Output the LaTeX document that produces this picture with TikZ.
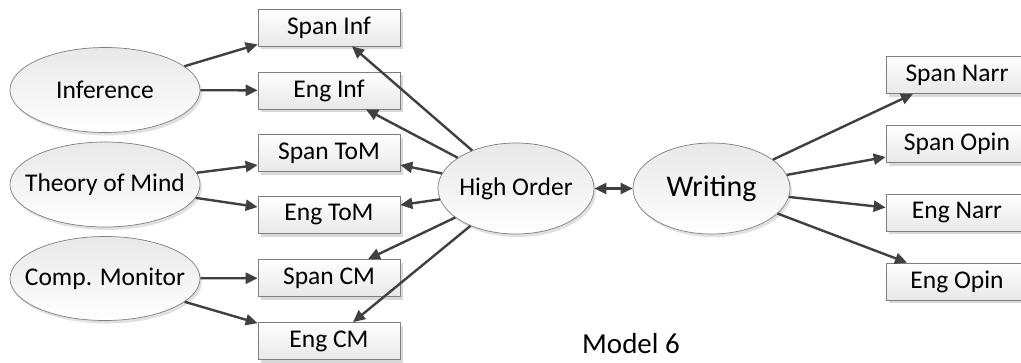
\documentclass[tikz,border=0pt]{standalone}
\usepackage{fontspec}
\setmainfont{Carlito}
\usetikzlibrary{arrows.meta,shadows,calc,shapes.geometric}
\definecolor{edgegray}{HTML}{7F7F7F}
\definecolor{arrowgray}{HTML}{404040}
\begin{document}
\begin{tikzpicture}[x=1pt,y=-1pt,
  measure/.style={draw=edgegray, line width=0.7pt, rectangle, minimum width=142pt,
    minimum height=37pt, inner sep=0pt, top color=white, bottom color=black!9,
    font=\fontsize{25.5}{28}\selectfont,
    drop shadow={shadow xshift=3pt, shadow yshift=-3pt, fill=black!25, opacity=.6}},
  factor/.style={draw=edgegray, line width=0.7pt, ellipse, inner sep=-20pt,
    top color=black!9, bottom color=white,
    font=\fontsize{25.5}{28}\selectfont,
    drop shadow={shadow xshift=2pt, shadow yshift=-3pt, fill=black!20, opacity=.6}},
  link/.style={draw=arrowgray, line width=2.4pt, -{Triangle[length=12pt,width=11pt]}},
  both/.style={draw=arrowgray, line width=2.4pt, {Triangle[length=12pt,width=11pt]}-{Triangle[length=12pt,width=11pt]}}
]
\useasboundingbox (0,0) rectangle (1021,362);

% latent factors on the left
\node[factor, minimum width=190pt, minimum height=85pt] (inf) at (105,90) {Inference};
\node[factor, minimum width=190pt, minimum height=85pt] (tom) at (105,184.5) {Theory of Mind};
\node[factor, minimum width=190pt, minimum height=84pt] (cm) at (105,278.5) {Comp. Monitor};

% indicators of the left factors
\node[measure] (spaninf) at (329,27.5) {Span Inf};
\node[measure] (enginf) at (329,90.5) {Eng Inf};
\node[measure] (spantom) at (329,153) {Span ToM};
\node[measure] (engtom) at (329,215) {Eng ToM};
\node[measure] (spancm) at (329,278) {Span CM};
\node[measure] (engcm) at (329,341) {Eng CM};

% higher-order factor and writing
\node[factor, minimum width=156pt, minimum height=91pt] (high) at (516,188.5) {High Order};
\node[factor, minimum width=157pt, minimum height=91pt, font=\fontsize{30}{34}\selectfont] (writ) at (711.5,188.5) {Writing};

% writing indicators
\node[measure] (spannarr) at (957,75) {Span Narr};
\node[measure] (spanopin) at (957,144) {Span Opin};
\node[measure] (engnarr) at (957,212.5) {Eng Narr};
\node[measure] (engopin) at (957,281.5) {Eng Opin};

\node[font=\fontsize{29}{32}\selectfont] (title) at (631,344) {Model 6};

% loadings of the first-order factors
\draw[link] (inf) -- ($(spaninf.south west)+(0,-2)$);
\draw[link] (inf) -- (enginf);
\draw[link] (tom) -- ($(spantom.west)+(0,12)$);
\draw[link] (tom) -- ($(engtom.west)+(0,-8)$);
\draw[link] (cm) -- (spancm);
\draw[link] (cm) -- ($(engcm.north west)+(0,1)$);

% direct paths from the higher-order factor
\draw[link] (high) -- ($(spaninf.south)+(23,0)$);
\draw[link] (high) -- ($(enginf.south)+(37,0)$);
\draw[link] (high) -- ($(spantom.east)+(0,12)$);
\draw[link] (high) -- ($(engtom.east)+(0,-10)$);
\draw[link] (high) -- ($(spancm.north)+(39,0)$);
\draw[link] (high) -- ($(engcm.north)+(24,0)$);

% correlation between the two factors
\draw[both] (high) -- (writ);

% writing loadings
\draw[link] (writ) -- ($(spannarr.south)+(-44,0)$);
\draw[link] (writ) -- ($(spanopin.west)+(0,13)$);
\draw[link] (writ) -- ($(engnarr.west)+(0,-5)$);
\draw[link] (writ) -- ($(engopin.north)+(-50,0)$);
\end{tikzpicture}
\end{document}
